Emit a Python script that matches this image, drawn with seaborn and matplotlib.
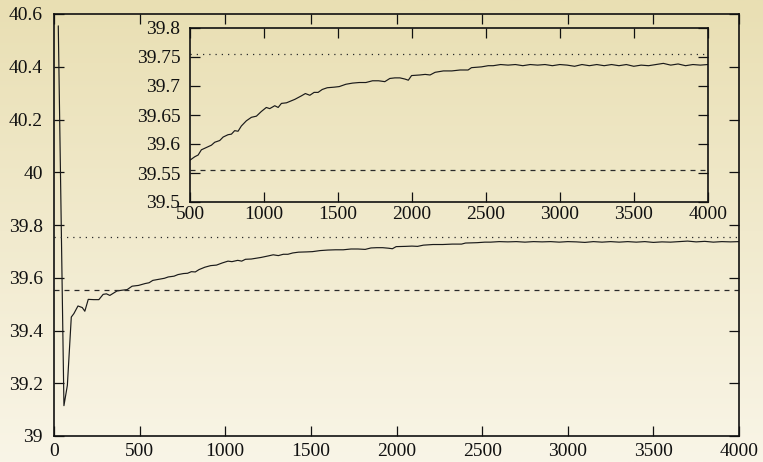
import numpy as np
import pandas as pd
import matplotlib
matplotlib.use("Agg")
import matplotlib.pyplot as plt
from matplotlib.ticker import FuncFormatter
from matplotlib.colors import LinearSegmentedColormap
import seaborn as sns

# ---- data ----
iterations = [25, 58, 78, 101, 116, 140, 165, 180, 200, 233, 262, 287, 306, 326, 368, 400, 427, 456, 494,
              532, 555, 577, 611, 645, 667, 701, 724, 757, 780, 802, 825, 847, 881, 915, 949, 982,
              1016, 1039, 1073, 1096, 1118, 1152, 1209, 1253, 1280, 1310, 1339, 1366, 1394, 1428,
              1475, 1509, 1554, 1599, 1644, 1689, 1734, 1775, 1817, 1851, 1885, 1919, 1953, 1976,
              1998, 2054, 2090, 2123, 2157, 2213, 2270, 2326, 2380, 2403, 2471, 2516,
              2550, 2600, 2650, 2700, 2750, 2800, 2850, 2900, 2950, 3000, 3050, 3100, 3150, 3200,
              3250, 3300, 3350, 3400, 3450, 3500, 3550, 3600, 3650, 3700, 3750, 3800, 3850, 3900,
              3950, 4000]
estimate = [40.555, 39.115, 39.192, 39.451, 39.464, 39.493, 39.487, 39.473, 39.518, 39.517, 39.517,
            39.537, 39.539, 39.533, 39.550, 39.553, 39.555, 39.568, 39.571,
            39.578, 39.581, 39.590, 39.594, 39.598, 39.603, 39.606, 39.612, 39.616, 39.617, 39.623,
            39.622, 39.631, 39.640, 39.646, 39.648, 39.656,
            39.663, 39.661, 39.666, 39.663, 39.670, 39.671, 39.677, 39.683, 39.687, 39.684, 39.689,
            39.689, 39.694, 39.697,
            39.698, 39.699, 39.703, 39.705, 39.706, 39.706, 39.709, 39.709, 39.7075, 39.713, 39.714,
            39.714, 39.712, 39.710,
            39.718, 39.719, 39.720, 39.719, 39.7236, 39.726, 39.726, 39.7276, 39.7276, 39.7316,
            39.733, 39.735,
            39.735, 39.737, 39.736, 39.737, 39.735, 39.737, 39.736, 39.737, 39.735, 39.737, 39.736,
            39.734, 39.737, 39.735,
            39.737, 39.735, 39.737, 39.735, 39.737, 39.734, 39.736, 39.735, 39.737, 39.739, 39.736,
            39.738, 39.735, 39.737,
            39.736, 39.737]
upper_ref = 39.755   # dotted
lower_ref = 39.555   # dashed

main_xticks = [0, 500, 1000, 1500, 2000, 2500, 3000, 3500, 4000]
main_yticks = [39, 39.2, 39.4, 39.6, 39.8, 40, 40.2, 40.4, 40.6]
inset_xticks = [500, 1000, 1500, 2000, 2500, 3000, 3500, 4000]
inset_yticks = [39.5, 39.55, 39.6, 39.65, 39.7, 39.75, 39.8]

df = pd.DataFrame({"iter": iterations, "value": estimate})

sns.set_style("ticks")
plt.rcParams["font.family"] = ["Liberation Serif", "DejaVu Serif"]
plt.rcParams["font.size"] = 14

fig = plt.figure(figsize=(7.63, 4.62), dpi=100)

# gradient background
bg = fig.add_axes([0, 0, 1, 1], zorder=-10)
grad = np.linspace(0, 1, 256).reshape(-1, 1)
cmap = LinearSegmentedColormap.from_list("bg", ["#e9dfb3", "#f9f5e7"])
bg.imshow(grad, aspect="auto", cmap=cmap, extent=[0, 1, 0, 1], origin="upper")
bg.set_axis_off()

fmt = FuncFormatter(lambda v, p: f"{round(v, 4):g}")


def style(ax, xticks, yticks, xlim, ylim, xpad, ypad):
    ax.set_facecolor("none")
    ax.set_xlim(*xlim)
    ax.set_ylim(*ylim)
    ax.set_xticks(xticks)
    ax.set_yticks(yticks)
    ax.xaxis.set_major_formatter(fmt)
    ax.yaxis.set_major_formatter(fmt)
    for s in ax.spines.values():
        s.set_visible(True)
        s.set_linewidth(1.2)
        s.set_color("#111111")
    ax.tick_params(axis="both", which="both", direction="in", length=7, width=0.9,
                   top=True, right=True, colors="#111111", labelsize=14)
    ax.tick_params(axis="x", pad=xpad)
    ax.tick_params(axis="y", pad=ypad)
    ax.set_xlabel("")
    ax.set_ylabel("")
    ax.grid(False)


ax = fig.add_axes([54 / 763, 26 / 462, 685 / 763, 422 / 462])
sns.lineplot(data=df, x="iter", y="value", ax=ax, color="#1a1a1a", linewidth=0.85,
             estimator=None, sort=False)
ax.axhline(upper_ref, color="#2a2a2a", linewidth=0.9, linestyle=(0, (1, 4)))
ax.axhline(lower_ref, color="#2a2a2a", linewidth=0.9, linestyle=(0, (4, 4)))
style(ax, main_xticks, main_yticks, (0, 4000), (39, 40.6), 5, 8)

axi = fig.add_axes([190 / 763, 260 / 462, 517.7 / 763, 174 / 462])
sns.lineplot(data=df, x="iter", y="value", ax=axi, color="#1a1a1a", linewidth=0.85,
             estimator=None, sort=False)
axi.axhline(upper_ref, color="#2a2a2a", linewidth=0.9, linestyle=(0, (1, 4)))
axi.axhline(lower_ref, color="#2a2a2a", linewidth=0.9, linestyle=(0, (4, 4)))
style(axi, inset_xticks, inset_yticks, (500, 4000), (39.5, 39.8), 3, 7)

fig.savefig("out.png", dpi=100)
